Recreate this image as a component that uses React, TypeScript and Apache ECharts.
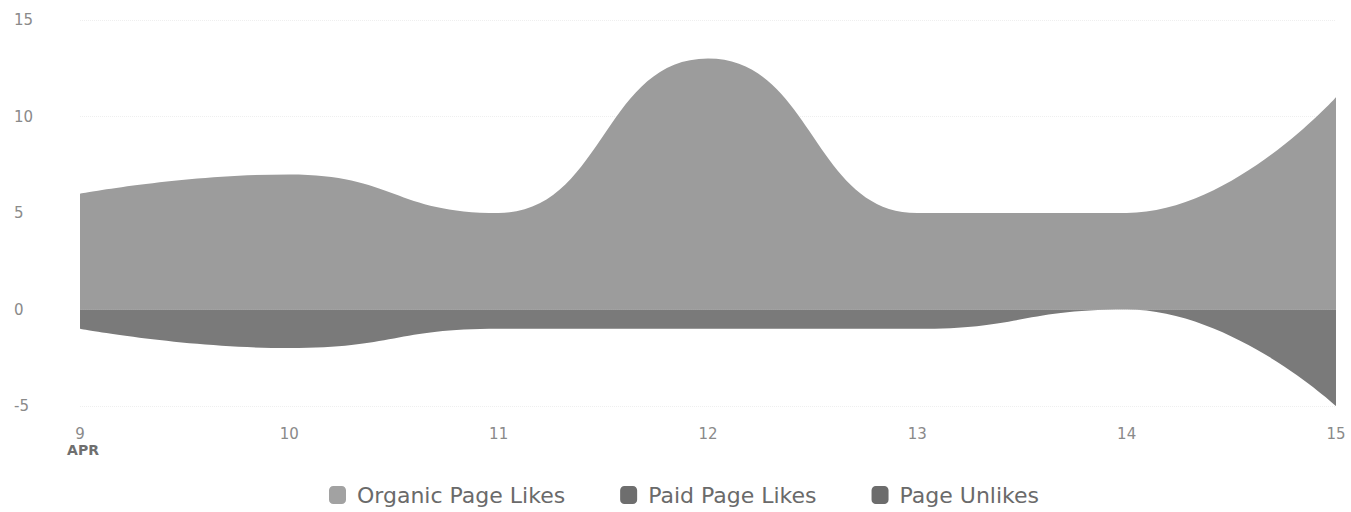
import React, { useEffect, useRef } from "react";
import * as echarts from "echarts";

const categories = ["9", "10", "11", "12", "13", "14", "15"];
const organicLikes = [6, 7, 5, 13, 5, 5, 11];
const paidLikes = [0, 0, 0, 0, 0, 0, 0];
const pageUnlikes = [-1, -2, -1, -1, -1, 0, -5];
const yTicks = { min: -5, max: 15, interval: 5 };

export default function App() {
  const ref = useRef<HTMLDivElement>(null);
  useEffect(() => {
    const chart = echarts.init(ref.current!, null, { renderer: "svg" });
    const font = "DejaVu Sans";
    const mk = (name: string, data: number[], color: string, z: number) => ({
      name,
      type: "line",
      data,
      z,
      smooth: 0.5,
      smoothMonotone: "x",
      showSymbol: false,
      symbol: "none",
      lineStyle: { width: 0 },
      itemStyle: { color },
      areaStyle: { color, opacity: 1, origin: 0 },
    });
    chart.setOption({
      animation: false,
      grid: { left: 80, right: 15, top: 20, bottom: 106 },
      legend: {
        top: 479,
        left: 324,
        icon: "roundRect",
        itemWidth: 17,
        itemHeight: 18,
        itemGap: 55,
        textStyle: { color: "#6a6a6a", fontSize: 22, fontFamily: font, padding: [0, 0, 0, 6] },
        data: [
          { name: "Organic Page Likes", itemStyle: { color: "#a2a2a2" } },
          { name: "Paid Page Likes", itemStyle: { color: "#6e6e6e" } },
          { name: "Page Unlikes", itemStyle: { color: "#6c6c6c" } },
        ],
      },
      xAxis: {
        type: "category",
        data: categories,
        boundaryGap: false,
        axisLine: { show: false },
        axisTick: { show: false },
        axisLabel: {
          color: "#8a8a8a",
          fontSize: 15,
          fontFamily: font,
          margin: 20,
          lineHeight: 16,
          formatter: (v: string, i: number) => (i === 0 ? v + "\n{b|APR}" : v),
          rich: {
            b: { fontWeight: "bold", fontSize: 14, color: "#6f6f6f", fontFamily: font, padding: [0, 0, 0, 6], lineHeight: 16 },
          },
        },
      },
      yAxis: {
        type: "value",
        min: yTicks.min,
        max: yTicks.max,
        interval: yTicks.interval,
        axisLine: { show: false },
        axisTick: { show: false },
        splitLine: { lineStyle: { color: "#efefef", type: "dotted" } },
        axisLabel: { color: "#8a8a8a", fontSize: 15, fontFamily: font, align: "left", margin: 66 },
      },
      series: [
        mk("Organic Page Likes", organicLikes, "#9c9c9c", 2),
        mk("Paid Page Likes", paidLikes, "#727272", 3),
        mk("Page Unlikes", pageUnlikes, "#7a7a7a", 4),
      ],
    });
    return () => chart.dispose();
  }, []);
  return <div ref={ref} style={{ position: "absolute", left: 0, top: 0, width: 1351, height: 512 }} />;
}
